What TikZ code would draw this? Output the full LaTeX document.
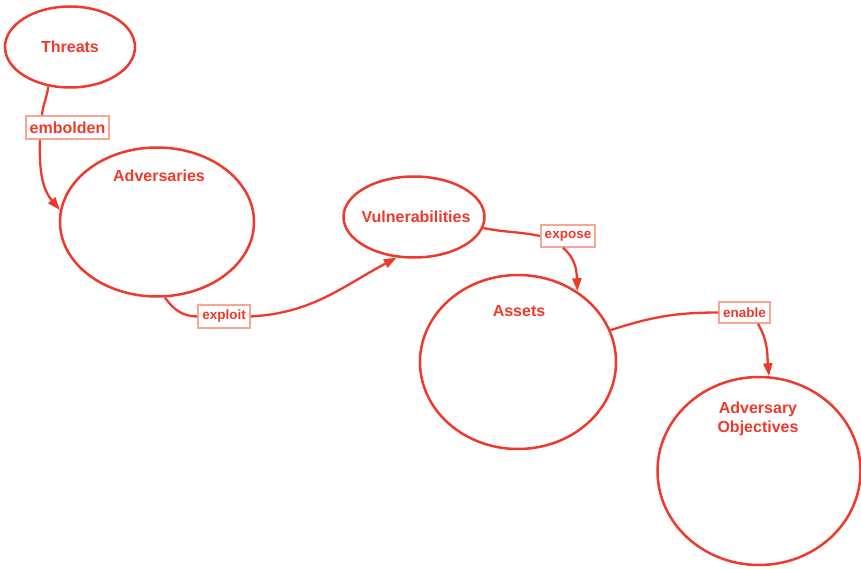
\documentclass[tikz,border=0pt]{standalone}
\usepackage{fontspec}
\setmainfont{Liberation Sans}
\usetikzlibrary{shapes.geometric,arrows.meta}
\definecolor{mapred}{HTML}{EE3A2C}
\definecolor{tagline}{HTML}{F7A595}
\tikzset{
  concept/.style={ellipse, draw=mapred, line width=2.5pt, inner sep=0pt},
  ctext/.style={text=mapred, font=\bfseries\fontsize{16}{19}\selectfont, align=center, inner sep=0pt},
  tag/.style={draw=tagline, fill=white, line width=1.6pt, text=mapred,
    font=\bfseries\fontsize{13.5}{15}\selectfont, inner xsep=4pt, minimum height=22pt, inner ysep=0pt},
  link/.style={draw=mapred, line width=2.3pt},
  linkarrow/.style={link, -{Triangle[length=13pt,width=9pt]}}
}
\begin{document}
\begin{tikzpicture}[x=1pt,y=-1pt]
\useasboundingbox (0,0) rectangle (861,569);

% concepts
\node[concept, minimum width=130pt, minimum height=81pt] (thr) at (70,47) {};
\node[concept, minimum width=194pt, minimum height=149pt] (adv) at (157,222) {};
\node[concept, minimum width=141pt, minimum height=81pt] (vul) at (414,217) {};
\node[concept, minimum width=196pt, minimum height=174pt] (ast) at (518,362) {};
\node[concept, minimum width=203pt, minimum height=188pt] (obj) at (759,471) {};

\node[ctext] (thrT) at (70,47) {Threats};
\node[ctext] (advT) at (159,176) {Adversaries};
\node[ctext] (vulT) at (416,217) {Vulnerabilities};
\node[ctext] (astT) at (519,311) {Assets};
\node[ctext] (objT) at (758,419) {Adversary\\Objectives};

% link labels
\node[tag, font=\bfseries\fontsize{16}{18}\selectfont, minimum height=23pt] (emb) at (67.5,127.5) {embolden};
\node[tag, minimum height=23pt] (exp) at (224,316.5) {exploit};
\node[tag] (exs) at (568,236) {expose};
\node[tag, minimum height=21pt] (ena) at (744.5,312.5) {enable};

% connectors
\draw[link] (thr.241) to[out=-95,in=85] (emb.north -| 42,0);
\draw[linkarrow] (emb.south -| 40,0) to[out=-92,in=130] (adv.173);

\draw[link] (adv.276) to[out=-55,in=180] (exp.west);
\draw[linkarrow] (exp.east) to[out=3,in=208] (vul.247);

\draw[link] (vul.351) to[out=-12,in=168] (exs.west);
\draw[linkarrow] (exs.south -| 563,0) to[out=-40,in=92] (ast.50);

\draw[link] (ast.19) to[out=18,in=180] (ena.west);
\draw[linkarrow] (ena.south -| 758,0) to[out=-60,in=95] (obj.84);
\end{tikzpicture}
\end{document}
